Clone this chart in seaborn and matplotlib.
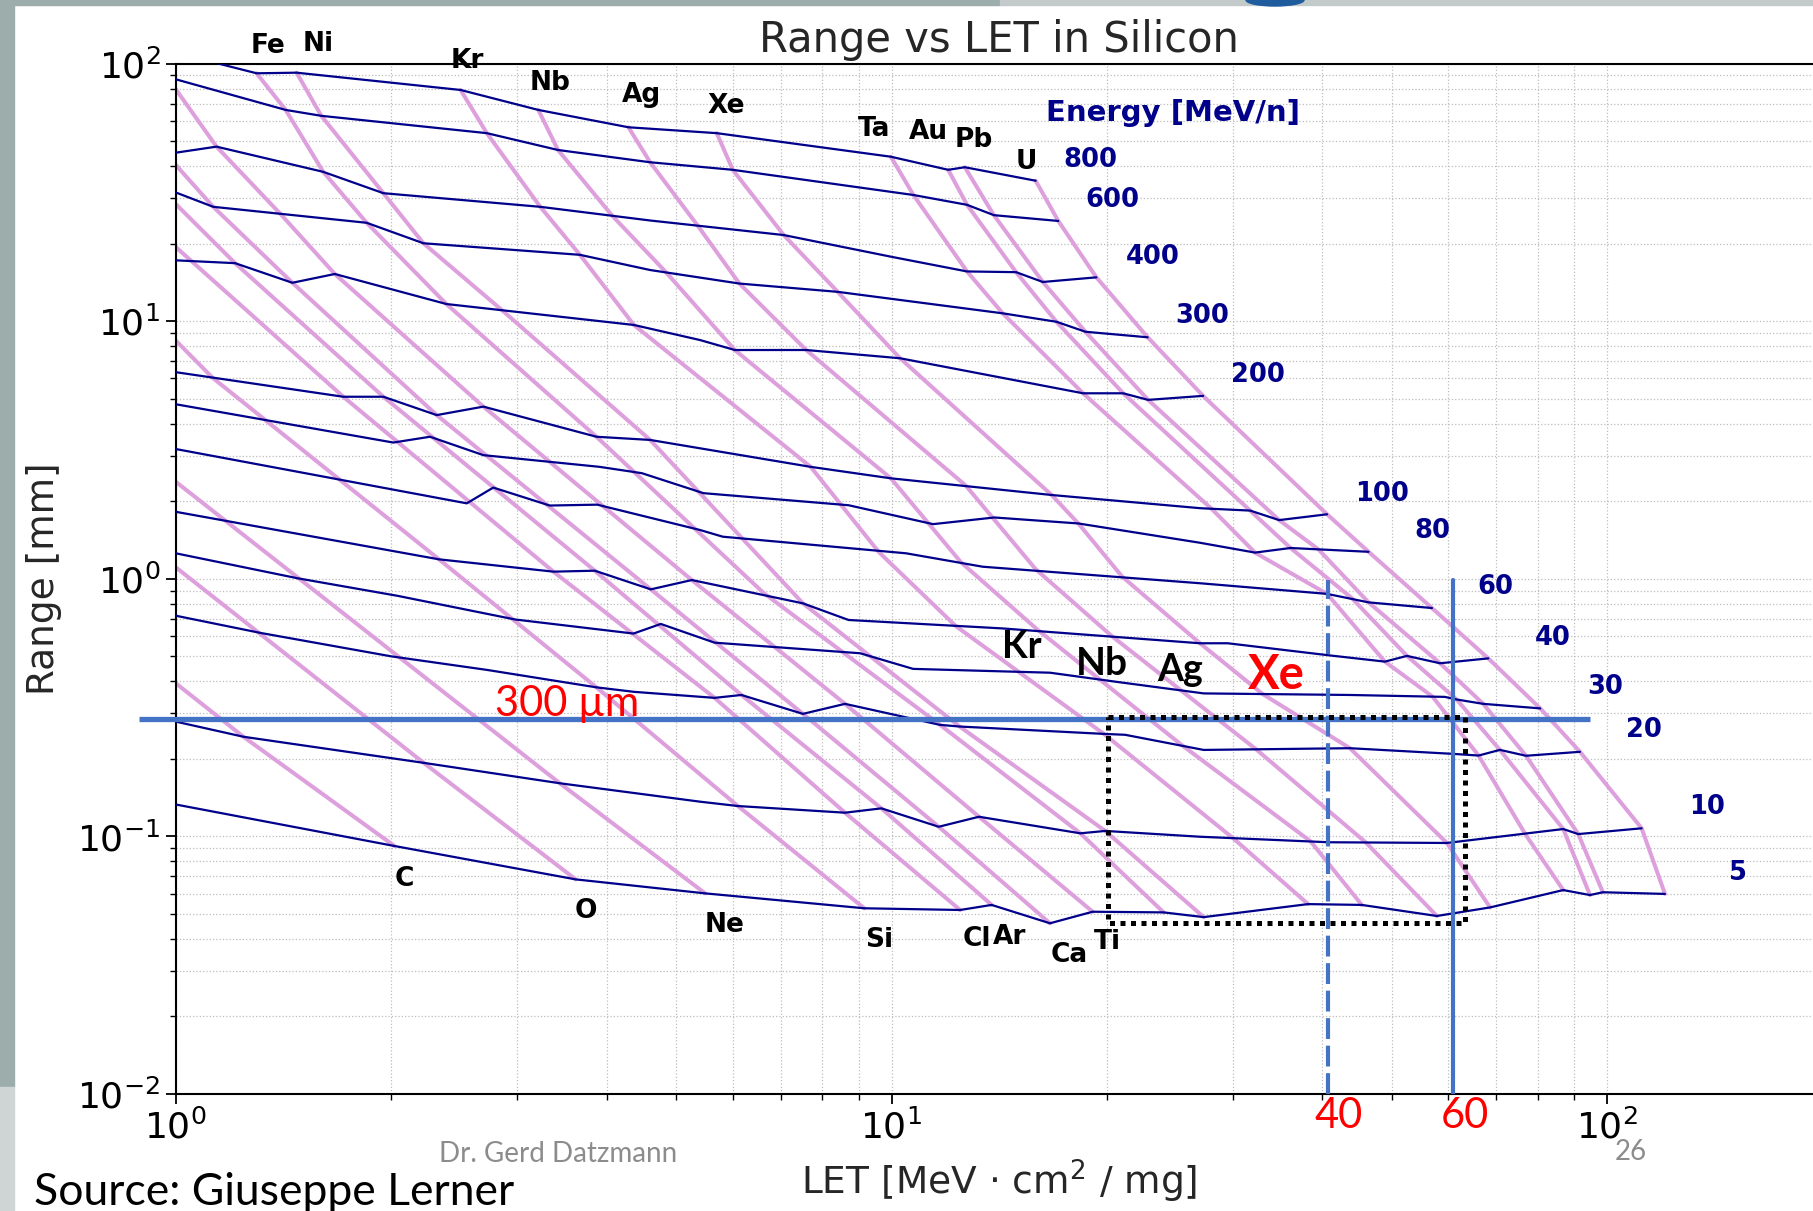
import numpy as np
import pandas as pd
import matplotlib
matplotlib.use("Agg")
import matplotlib.pyplot as plt
import matplotlib.transforms as mtransforms
from matplotlib.ticker import NullFormatter
from matplotlib.patches import Rectangle, Ellipse
import seaborn as sns

sns.set_theme(style="ticks")
plt.rcParams['font.family'] = ['DejaVu Sans']
plt.rcParams['mathtext.fontset'] = 'dejavusans'

# ------------------------------------------------------------------
# Iso-energy curves (navy): LET [MeV cm2/mg] and range [mm]
# ------------------------------------------------------------------
energies = [800, 600, 400, 300, 200, 100, 80, 60, 40, 30, 20, 10, 5]

e800_let = [1.147, 1.297, 1.475, 2.50, 3.21, 4.29, 5.70, 9.98, 12.0, 12.66, 15.9]
e800_rng = [100, 91.7, 92.2, 79.0, 66.1, 56.6, 53.7, 43.5, 38.7, 39.6, 35.1]
e600_let = [1.0, 1.424, 1.597, 2.72, 3.42, 4.60, 6.0, 10.73, 12.75, 13.9, 17.1]
e600_rng = [86.9, 66.1, 62.7, 53.7, 46.2, 41.4, 38.7, 30.9, 28.3, 25.8, 24.5]
e400_let = [1.0, 1.14, 1.607, 1.95, 3.23, 4.60, 7.07, 9.98, 12.75, 14.93, 16.27, 19.33]
e400_rng = [45.1, 47.6, 38.0, 31.4, 27.8, 24.6, 21.6, 17.8, 15.6, 15.5, 14.2, 14.8]
e300_let = [1.0, 1.128, 1.848, 2.218, 3.67, 4.60, 6.13, 8.41, 14.3, 17.0, 18.66, 22.8]
e300_rng = [31.6, 27.8, 24.1, 20.07, 18.1, 15.8, 14.0, 13.0, 10.73, 9.95, 9.10, 8.66]
e200_let = [1.0, 1.21, 1.455, 1.668, 2.388, 4.365, 5.40, 6.04, 7.60, 10.28, 18.52, 21.07, 22.83, 27.25]
e200_rng = [17.23, 16.8, 14.1, 15.25, 11.66, 9.67, 8.45, 7.73, 7.73, 7.18, 5.25, 5.25, 4.95, 5.13]
e100_let = [1.0, 1.714, 1.95, 2.315, 2.69, 3.87, 4.60, 7.71, 9.98, 16.74, 26.98, 28.0, 31.7, 34.8, 40.6]
e100_rng = [6.34, 5.09, 5.09, 4.32, 4.66, 3.56, 3.46, 2.72, 2.455, 2.115, 1.88, 1.87, 1.84, 1.69, 1.78]
e80_let = [1.0, 2.013, 2.266, 2.69, 3.91, 4.48, 5.46, 8.71, 11.43, 13.92, 18.24, 26.98, 32.2, 36.1, 46.4]
e80_rng = [4.76, 3.38, 3.56, 3.02, 2.72, 2.57, 2.15, 1.93, 1.63, 1.73, 1.64, 1.38, 1.264, 1.317, 1.273]
e60_let = [1.0, 2.55, 2.777, 3.33, 3.88, 5.40, 5.81, 10.48, 13.41, 26.98, 40.6, 46.4, 56.9]
e60_rng = [3.19, 1.963, 2.26, 1.925, 1.94, 1.547, 1.457, 1.256, 1.114, 0.961, 0.874, 0.81, 0.77]
e40_let = [1.0, 2.332, 3.37, 3.85, 4.61, 5.26, 7.52, 8.71, 14.26, 26.98, 29.5, 41.0, 48.9, 52.5, 58.4, 68.2]
e40_rng = [1.82, 1.19, 1.066, 1.075, 0.91, 0.989, 0.803, 0.692, 0.642, 0.562, 0.562, 0.504, 0.477, 0.502, 0.47, 0.491]
e30_let = [1.0, 1.479, 2.04, 2.98, 4.36, 4.76, 5.66, 9.04, 10.72, 16.65, 20.64, 27.3, 43.7, 59.3, 61.6, 67.1, 80.6]
e30_rng = [1.256, 1.005, 0.859, 0.695, 0.613, 0.668, 0.565, 0.514, 0.447, 0.432, 0.398, 0.359, 0.354, 0.348, 0.340, 0.327, 0.314]
e20_let = [1.0, 1.311, 2.0, 2.72, 3.87, 4.37, 5.66, 6.17, 7.52, 8.61, 11.69, 12.45, 19.8, 21.2, 27.3, 43.7, 61.1, 66.1, 70.8, 77.0, 91.6]
e20_rng = [0.719, 0.617, 0.50, 0.443, 0.379, 0.364, 0.345, 0.354, 0.299, 0.327, 0.271, 0.267, 0.25, 0.248, 0.2166, 0.22, 0.209, 0.206, 0.2167, 0.2056, 0.213]
e10_let = [1.0, 1.243, 2.22, 3.44, 5.40, 6.10, 8.61, 9.68, 11.64, 13.25, 18.36, 19.89, 26.98, 40.8, 59.7, 86.8, 91.1, 111.7]
e10_rng = [0.279, 0.2437, 0.193, 0.1608, 0.1364, 0.1312, 0.1236, 0.1285, 0.109, 0.1192, 0.1028, 0.105, 0.0997, 0.0949, 0.0943, 0.1068, 0.1021, 0.1075]
e5_let = [1.0, 2.02, 3.62, 5.49, 9.16, 12.47, 13.8, 16.65, 19.1, 24.0, 27.3, 38.2, 45.4, 57.8, 68.6, 86.8, 94.6, 98.6, 120.4]
e5_rng = [0.133, 0.0918, 0.0681, 0.0601, 0.0526, 0.0518, 0.0542, 0.046, 0.051, 0.0507, 0.0486, 0.0546, 0.0542, 0.0491, 0.053, 0.0619, 0.0592, 0.0607, 0.0598]

# ------------------------------------------------------------------
# Ion curves (plum): LET and range along each ion track
# ------------------------------------------------------------------
ions = ['C', 'O', 'Ne', 'Si', 'Cl', 'Ar', 'Ca', 'Ti', 'Fe', 'Ni',
        'Kr', 'Nb', 'Ag', 'Xe', 'Ta', 'Au', 'Pb', 'U']

c_let = [1.0, 1.243, 2.02]
c_rng = [0.393, 0.2437, 0.0918]
o_let = [1.0, 2.22, 3.62]
o_rng = [1.108, 0.193, 0.0681]
ne_let = [1.0, 3.44, 5.49]
ne_rng = [2.38, 0.1608, 0.0601]
si_let = [1.0, 1.125, 2.332, 3.87, 6.10, 9.16]
si_rng = [8.41, 6.04, 1.19, 0.379, 0.1312, 0.0526]
cl_let = [1.0, 1.714, 3.37, 5.66, 8.61, 12.47]
cl_rng = [19.4, 5.09, 1.066, 0.345, 0.1236, 0.0518]
ar_let = [1.0, 1.21, 1.95, 3.85, 6.17, 9.68, 13.8]
ar_rng = [28.5, 16.8, 5.09, 1.075, 0.354, 0.1285, 0.0542]
ca_let = [1.0, 1.128, 1.455, 2.315, 4.61, 7.52, 11.64, 16.65]
ca_rng = [40.4, 27.8, 14.1, 4.32, 0.91, 0.299, 0.109, 0.046]
ti_let = [1.0, 1.14, 1.40, 1.668, 2.69, 5.26, 8.61, 13.25, 19.1]
ti_rng = [79.5, 47.6, 26.1, 15.25, 4.66, 0.989, 0.327, 0.1192, 0.051]
fe_let = [1.297, 1.424, 1.607, 1.848, 2.388, 3.87, 6.63, 11.69, 18.36, 24.0]
fe_rng = [91.7, 66.1, 38.0, 24.1, 11.66, 3.56, 0.88, 0.271, 0.1028, 0.0507]
ni_let = [1.475, 1.597, 1.95, 2.218, 2.86, 4.60, 7.52, 12.45, 19.89, 27.3]
ni_rng = [92.2, 62.7, 31.4, 20.07, 11.0, 3.46, 0.803, 0.267, 0.105, 0.0486]
kr_let = [2.50, 2.72, 3.23, 3.67, 4.365, 7.71, 9.6, 12.3, 19.8, 30.0, 38.2]
kr_rng = [79.0, 53.7, 27.8, 18.1, 9.67, 2.72, 1.27, 0.655, 0.25, 0.0985, 0.0546]
nb_let = [3.21, 3.42, 4.07, 4.84, 6.04, 9.98, 12.5, 16.0, 25.4, 38.5, 45.4]
nb_rng = [66.1, 46.2, 25.7, 15.5, 7.73, 2.455, 1.16, 0.634, 0.227, 0.0957, 0.0542]
ag_let = [4.29, 4.60, 5.36, 6.13, 7.60, 12.7, 15.9, 20.3, 32.3, 46.0, 57.8]
ag_rng = [56.6, 41.4, 23.5, 14.0, 7.73, 2.30, 1.09, 0.60, 0.218, 0.0947, 0.0491]
xe_let = [5.70, 6.0, 7.07, 8.41, 10.28, 16.74, 18.24, 21.0, 26.98, 33.0, 43.7, 59.7, 68.6]
xe_rng = [53.7, 38.7, 21.6, 13.0, 7.18, 2.115, 1.64, 1.02, 0.562, 0.357, 0.22, 0.0943, 0.053]
ta_let = [9.98, 10.73, 12.75, 14.3, 18.52, 28.0, 32.2, 40.6, 48.9, 57.0, 66.1, 77.0, 86.8]
ta_rng = [43.5, 30.9, 15.6, 10.73, 5.25, 1.87, 1.264, 0.874, 0.477, 0.349, 0.206, 0.101, 0.0619]
au_let = [12.0, 12.75, 14.93, 17.0, 21.07, 31.7, 36.1, 44.0, 52.5, 61.6, 70.8, 86.8, 94.6]
au_rng = [38.7, 28.3, 15.5, 9.95, 5.25, 1.84, 1.317, 0.84, 0.502, 0.340, 0.2167, 0.1068, 0.0592]
pb_let = [12.66, 13.9, 16.27, 18.66, 22.83, 34.8, 39.5, 46.4, 58.4, 67.1, 77.0, 91.1, 98.6]
pb_rng = [39.6, 25.8, 14.2, 9.10, 4.95, 1.69, 1.30, 0.81, 0.47, 0.327, 0.2056, 0.1021, 0.0607]
u_let = [15.9, 17.1, 19.33, 22.8, 27.25, 40.6, 46.4, 56.9, 68.2, 80.6, 91.6, 111.7, 120.4]
u_rng = [35.1, 24.5, 14.8, 8.66, 5.13, 1.78, 1.273, 0.77, 0.491, 0.314, 0.213, 0.1075, 0.0598]

top_ions = ['Fe', 'Ni', 'Kr', 'Nb', 'Ag', 'Xe', 'Ta', 'Au', 'Pb', 'U']
bottom_ions = ['C', 'O', 'Ne', 'Si', 'Cl', 'Ar', 'Ca', 'Ti']

# ------------------------------------------------------------------
# Long-form tables
# ------------------------------------------------------------------
energy_curves = [
    (800, e800_let, e800_rng), (600, e600_let, e600_rng), (400, e400_let, e400_rng),
    (300, e300_let, e300_rng), (200, e200_let, e200_rng), (100, e100_let, e100_rng),
    (80, e80_let, e80_rng), (60, e60_let, e60_rng), (40, e40_let, e40_rng),
    (30, e30_let, e30_rng), (20, e20_let, e20_rng), (10, e10_let, e10_rng),
    (5, e5_let, e5_rng)]
ion_curves = [
    ('C', c_let, c_rng), ('O', o_let, o_rng), ('Ne', ne_let, ne_rng),
    ('Si', si_let, si_rng), ('Cl', cl_let, cl_rng), ('Ar', ar_let, ar_rng),
    ('Ca', ca_let, ca_rng), ('Ti', ti_let, ti_rng), ('Fe', fe_let, fe_rng),
    ('Ni', ni_let, ni_rng), ('Kr', kr_let, kr_rng), ('Nb', nb_let, nb_rng),
    ('Ag', ag_let, ag_rng), ('Xe', xe_let, xe_rng), ('Ta', ta_let, ta_rng),
    ('Au', au_let, au_rng), ('Pb', pb_let, pb_rng), ('U', u_let, u_rng)]

df_en = pd.DataFrame([(e, x, y) for e, xs, ys in energy_curves for x, y in zip(xs, ys)],
                     columns=['energy', 'let', 'range'])
df_ion = pd.DataFrame([(n, x, y) for n, xs, ys in ion_curves for x, y in zip(xs, ys)],
                      columns=['ion', 'let', 'range'])

# ------------------------------------------------------------------
# Figure
# ------------------------------------------------------------------
W, H = 1813, 1211
fig = plt.figure(figsize=(W / 100, H / 100), dpi=100)
fig.patch.set_facecolor('white')

# slide decoration
fig.add_artist(Rectangle((0, 0.1024), 13.5 / W, 1 - 0.1024, transform=fig.transFigure,
                         color='#9dadab', zorder=-10))
fig.add_artist(Rectangle((0, 0), 13.5 / W, 0.1024, transform=fig.transFigure,
                         color='#cfd5d4', zorder=-10))
fig.add_artist(Rectangle((0, 1 - 4.5 / H), 1000 / W, 4.5 / H, transform=fig.transFigure,
                         color='#9dadab', zorder=-10))
fig.add_artist(Rectangle((1000 / W, 1 - 4.5 / H), 1 - 1000 / W, 4.5 / H,
                         transform=fig.transFigure, color='#c3cbca', zorder=-10))
fig.add_artist(Ellipse((1275 / W, 1.0), 58 / W, 12 / H, transform=fig.transFigure,
                       color='#1f5c9e', zorder=-9))

ax = fig.add_axes([175.8 / W, (H - 1094) / H, (1822.7 - 175.8) / W, (1094 - 63.6) / H])
ax.set_xscale('log')
ax.set_yscale('log')

PLUM = '#DDA0DD'
NAVY = '#00008B'
BLUE = '#4472C4'

sns.lineplot(data=df_ion, x='let', y='range', units='ion', estimator=None, sort=False,
             color=PLUM, lw=2.9, ax=ax, legend=False, zorder=2)
sns.lineplot(data=df_en, x='let', y='range', units='energy', estimator=None, sort=False,
             color=NAVY, lw=1.6, ax=ax, legend=False, zorder=3)

ax.set_xlim(1, 200)
ax.set_ylim(0.01, 100)
ax.xaxis.set_minor_formatter(NullFormatter())
ax.yaxis.set_minor_formatter(NullFormatter())
ax.grid(True, which='both', color='#bdbdbd', lw=0.9, ls=':')
ax.set_axisbelow(True)
for sp in ax.spines.values():
    sp.set_color('black')
    sp.set_linewidth(1.5)
ax.tick_params(which='major', length=7, width=1.3, labelsize=26, pad=4, colors='black')
ax.tick_params(which='minor', length=4.5, width=1.0, colors='black')

ax.set_title('Range vs LET in Silicon', fontsize=30, pad=8)
ax.set_xlabel('LET [MeV $\\cdot$ cm$^2$ / mg]', fontsize=27)
ax.set_ylabel('Range [mm]', fontsize=27)
ax.xaxis.set_label_coords(0.5, -0.062)
ax.yaxis.set_label_coords(-0.0688, 0.5)

# ion labels
top_pos = {'Fe': (1.346, 116.7), 'Ni': (1.58, 119.3), 'Kr': (2.553, 102.1), 'Nb': (3.337, 83.8),
           'Ag': (4.477, 75.6), 'Xe': (5.875, 68.2), 'Ta': (9.46, 55.5), 'Au': (11.26, 54.3),
           'Pb': (13.02, 50.6), 'U': (15.45, 41.6)}
bot_pos = {'C': (2.088, 0.0684), 'O': (3.745, 0.0513), 'Ne': (5.853, 0.0453), 'Si': (9.60, 0.0396),
           'Cl': (13.17, 0.0399), 'Ar': (14.62, 0.0408), 'Ca': (17.74, 0.0346), 'Ti': (20.05, 0.0388)}
for name in top_ions:
    x, y = top_pos[name]
    ax.text(x, y, name, ha='center', va='center', fontsize=19, fontweight='bold',
            color='black', clip_on=False, zorder=6)
for name in bottom_ions:
    x, y = bot_pos[name]
    ax.text(x, y, name, ha='center', va='center', fontsize=19, fontweight='bold',
            color='black', clip_on=False, zorder=6)

# energy labels
en_pos = {800: (18.96, 42.4), 600: (20.35, 29.5), 400: (23.18, 17.8), 300: (27.2, 10.5),
          200: (32.5, 6.2), 100: (48.4, 2.14), 80: (57.0, 1.537), 60: (69.7, 0.926),
          40: (84.0, 0.587), 30: (99.3, 0.381), 20: (112.6, 0.26), 10: (137.7, 0.13),
          5: (152.3, 0.0721)}
ax.text(24.7, 64.1, 'Energy [MeV/n]', ha='center', va='center', fontsize=21,
        fontweight='bold', color=NAVY, zorder=6)
for e in energies:
    x, y = en_pos[e]
    ax.text(x, y, str(e), ha='center', va='center', fontsize=18.5, fontweight='bold',
            color=NAVY, zorder=6)

# ------------------------------------------------------------------
# Slide annotations
# ------------------------------------------------------------------
ax.plot([0.888, 94.6], [0.2855, 0.2855], color=BLUE, lw=3.8, solid_capstyle='butt',
        clip_on=False, zorder=5)
ax.plot([40.7, 40.7], [0.01, 0.989], color=BLUE, lw=3.0, ls=(0, (5, 1.6)), zorder=5)
ax.plot([60.8, 60.8], [0.01, 0.989], color=BLUE, lw=3.0, zorder=5)
ax.plot([20.05, 63.3, 63.3, 20.05, 20.05], [0.292, 0.292, 0.046, 0.046, 0.292],
        color='black', lw=3.6, ls=(0, (1, 1.1)), zorder=6)

ax.text(2.79, 0.2934, '300 µm', ha='left', va='baseline', color='red', fontsize=30,
        family='Lato', zorder=7)
ax.text(15.2, 0.545, 'Kr', ha='center', va='center', fontsize=27, fontweight='bold',
        family='Lato', color='black', zorder=7)
ax.text(19.67, 0.47, 'Nb', ha='center', va='center', fontsize=28, fontweight='bold',
        family='Lato', color='black', zorder=7)
ax.text(25.3, 0.443, 'Ag', ha='center', va='center', fontsize=27, fontweight='bold',
        family='Lato', color='black', zorder=7)
ax.text(34.5, 0.423, 'Xe', ha='center', va='center', fontsize=34, fontweight='bold',
        family='Lato', color='red', zorder=7)

trans = mtransforms.blended_transform_factory(ax.transData, ax.transAxes)
ax.text(42.2, -0.0214, '40', transform=trans, ha='center', va='center', color='red',
        fontsize=30, family='Lato', clip_on=False)
ax.text(63.3, -0.0214, '60', transform=trans, ha='center', va='center', color='red',
        fontsize=30, family='Lato', clip_on=False)

fig.text(34.5 / W, (H - 1205) / H, 'Source: Giuseppe Lerner', ha='left', va='baseline',
         fontsize=32, family='Lato', color='black')
fig.text(439 / W, (H - 1161.7) / H, 'Dr. Gerd Datzmann', ha='left', va='baseline',
         fontsize=20, family='Lato', color='#8c8c8c')
fig.text(1614.7 / W, (H - 1160) / H, '26', ha='left', va='baseline',
         fontsize=20, family='Lato', color='#8c8c8c')

fig.savefig('out.png', dpi=100)
